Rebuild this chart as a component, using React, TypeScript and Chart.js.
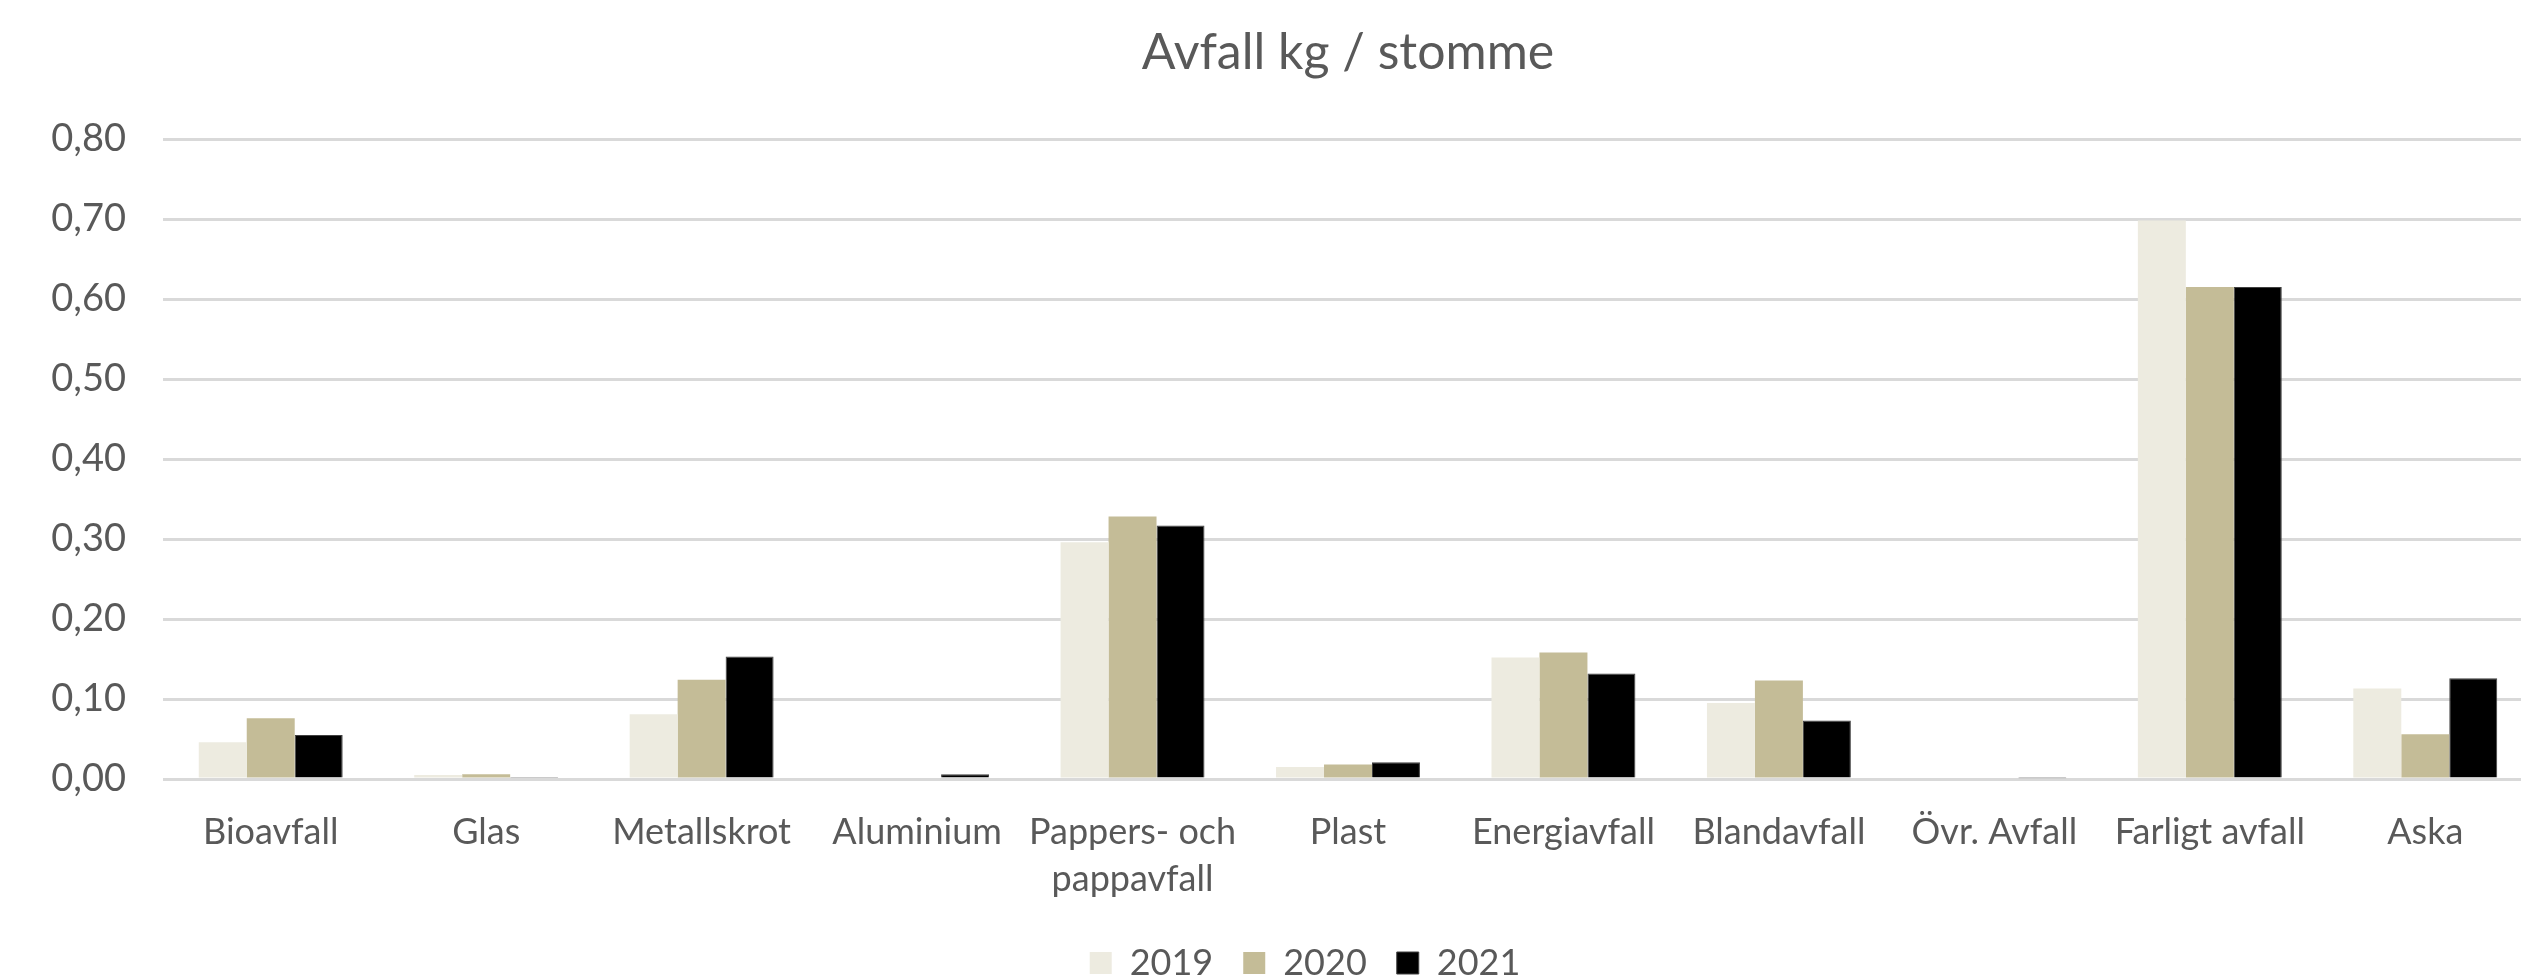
import React, { useEffect, useRef } from "react";
import { Chart, registerables } from "chart.js";

Chart.register(...registerables);

const chartTitle = "Avfall kg / stomme";

const categories: (string | string[])[] = [
  "Bioavfall",
  "Glas",
  "Metallskrot",
  "Aluminium",
  ["Pappers- och", "pappavfall"],
  "Plast",
  "Energiavfall",
  "Blandavfall",
  "Övr. Avfall",
  "Farligt avfall",
  "Aska",
];

const seriesNames = ["2019", "2020", "2021"];

const values2019 = [0.046, 0.005, 0.081, 0, 0.296, 0.015, 0.152, 0.095, 0, 0.698, 0.113];
const values2020 = [0.076, 0.006, 0.124, 0, 0.328, 0.018, 0.158, 0.123, 0, 0.615, 0.056];
const values2021 = [0.055, 0.0025, 0.153, 0.006, 0.317, 0.021, 0.132, 0.073, 0.001, 0.615, 0.126];

const yMin = 0;
const yMax = 0.8;
const yStep = 0.1;

const seriesColors = ["#EDEBE0", "#C4BC97", "#000000"];
const seriesBorders = ["#EDEBE0", "#C4BC97", "#404040"];
const textColor = "#595959";
const gridColor = "#D9D9D9";
const fontFamily = "Lato, 'Noto Sans', sans-serif";

const CANVAS_W = 2545;
const CANVAS_H = 991;
const LEGEND_PAD = 30;
const LEGEND_DX = -43;

export default function App() {
  const canvasRef = useRef<HTMLCanvasElement | null>(null);

  useEffect(() => {
    if (!canvasRef.current) return;
    const seriesValues = [values2019, values2020, values2021];

    const legendShift = {
      id: "legendShift",
      afterLayout(chart: any) {
        const lg = chart.legend;
        if (lg) {
          lg.left += LEGEND_DX;
          lg.right += LEGEND_DX;
        }
      },
    };

    const chart = new Chart(canvasRef.current, {
      type: "bar",
      data: {
        labels: categories,
        datasets: seriesNames.map((name, i) => ({
          label: name,
          data: seriesValues[i],
          backgroundColor: seriesColors[i],
          borderColor: seriesBorders[i],
          borderWidth: i === 2 ? 1 : 0,
          categoryPercentage: 0.668,
          barPercentage: 1.0,
        })),
      },
      options: {
        responsive: false,
        animation: false,
        devicePixelRatio: 1,
        layout: { padding: { left: 0, right: 12, top: 0, bottom: 0 } },
        plugins: {
          title: {
            display: true,
            text: chartTitle,
            fullSize: false,
            color: textColor,
            font: { family: fontFamily, size: 50, weight: "normal", lineHeight: 1.2 },
            padding: { top: 23, bottom: 56 },
          },
          legend: {
            display: true,
            position: "bottom",
            fullSize: false,
            labels: {
              color: textColor,
              font: { family: fontFamily, size: 36 },
              boxWidth: 22,
              boxHeight: 22,
              padding: LEGEND_PAD,
            },
          },
          tooltip: { enabled: false },
        },
        scales: {
          x: {
            grid: { display: false, drawTicks: false },
            border: { display: false },
            ticks: {
              color: textColor,
              font: { family: fontFamily, size: 36, lineHeight: 1.33 },
              padding: 29,
              maxRotation: 0,
              autoSkip: false,
            },
            afterFit(scale: any) {
              scale.height = 136;
            },
          },
          y: {
            min: yMin,
            max: yMax,
            grid: { color: gridColor, lineWidth: 3, drawTicks: false },
            border: { display: false },
            ticks: {
              stepSize: yStep,
              color: textColor,
              font: { family: fontFamily, size: 38 },
              padding: 37,
              callback: (v: any) => Number(v).toFixed(2).replace(".", ","),
            },
            afterFit(scale: any) {
              scale.width = 163;
            },
          },
        },
      },
      plugins: [legendShift],
    });

    return () => chart.destroy();
  }, []);

  return (
    <div
      style={{
        position: "fixed",
        left: 0,
        top: 0,
        width: 2521,
        height: 980,
        overflow: "hidden",
        background: "#ffffff",
      }}
    >
      <canvas
        ref={canvasRef}
        width={CANVAS_W}
        height={CANVAS_H}
        style={{ display: "block", width: CANVAS_W, height: CANVAS_H }}
      />
    </div>
  );
}
